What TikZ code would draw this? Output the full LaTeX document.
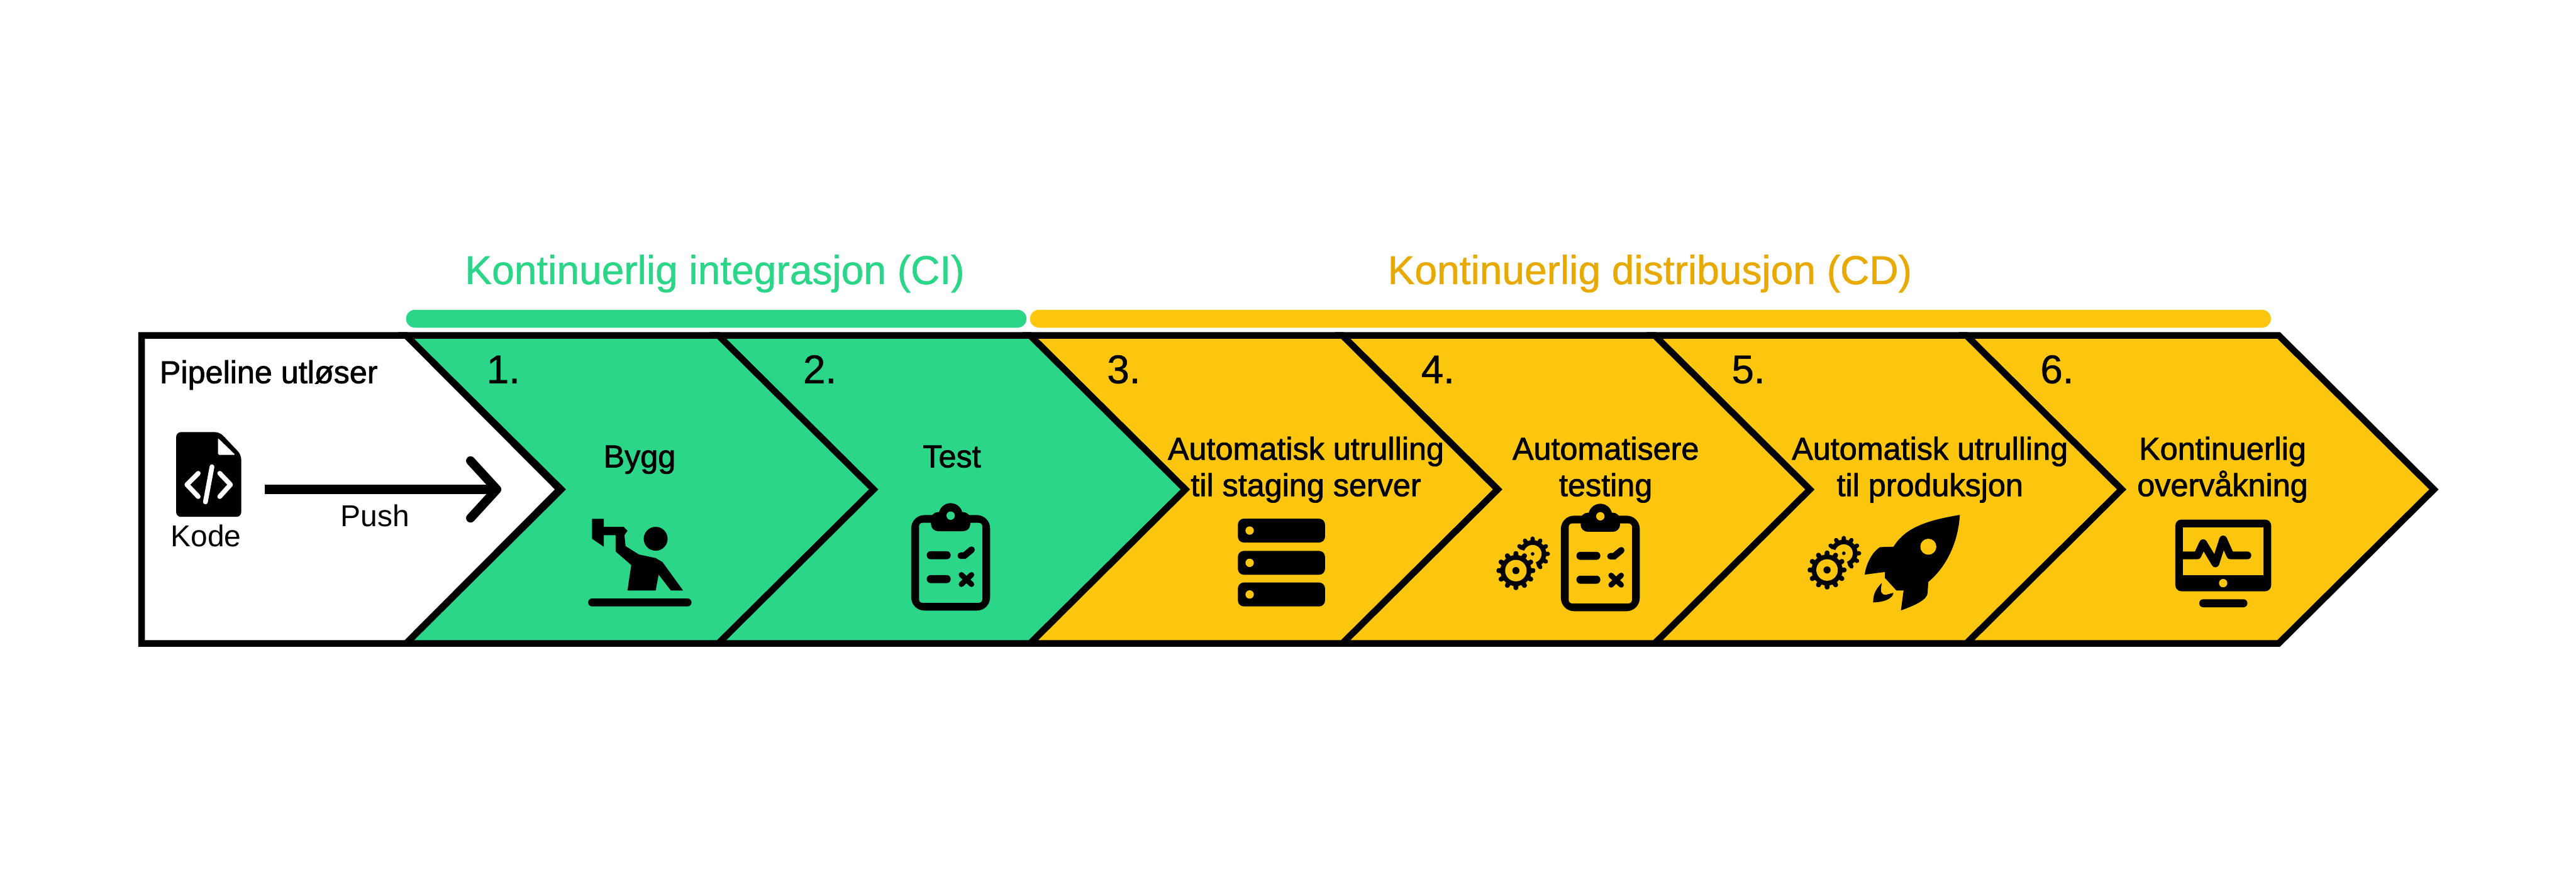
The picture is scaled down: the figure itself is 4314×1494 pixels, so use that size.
\documentclass[tikz,border=0pt]{standalone}
\usepackage{fontspec}
\setmainfont{Liberation Sans}
\newfontfamily\medf[FakeBold=1.6]{Liberation Sans}
\newfontfamily\numf[FakeBold=0.9]{Liberation Sans}
\definecolor{cigreen}{HTML}{2CD689}
\definecolor{cdyellow}{HTML}{FCC50E}
\definecolor{cdtitle}{HTML}{E8A900}
\newcommand{\txtsize}[1]{\fontsize{#1}{#1}\selectfont}
\newcommand{\lblsize}{\fontsize{5.3}{6.1}\selectfont}
\tikzset{
  x=0.1pt,y=-0.1pt,
  chevron/.style={draw=black,line width=1.1pt,miter limit=10,line join=miter},
  lbl/.style={inner sep=0,outer sep=0,text=black,align=center,font=\medf\lblsize},
  numlbl/.style={inner sep=0,outer sep=0,text=black,anchor=base west,font=\numf\txtsize{6.7}},
  smalllbl/.style={inner sep=0,outer sep=0,text=black,anchor=base,font=\txtsize{5.05}},
  titlelbl/.style={inner sep=0,outer sep=0,anchor=base,font=\numf\txtsize{6.75}},
  icon/.style={fill=black,draw=none},
  clipboard/.pic={
    \fill[black,rounded corners=2.2pt] (-66,0) rectangle (66,160);
    \fill[#1,rounded corners=0.6pt] (-53,13) rectangle (53,147);
    \fill[black,rounded corners=1.2pt] (-33,-5) rectangle (33,27);
    \fill[black] (0,0) circle (2pt);
    \fill[#1] (0,1) circle (0.7pt);
    \fill[black,rounded corners=0.65pt] (-40,60.5) rectangle (0,74);
    \fill[black,rounded corners=0.65pt] (-40,100.5) rectangle (0,114);
    \draw[black,line width=1.1pt,line cap=round] (17,68) -- (23,68) -- (35,58);
    \draw[black,line width=0.9pt,line cap=round] (18,100) -- (35,116) (18,116) -- (35,100);
  },
  gearshape/.pic={
    \foreach \a in {0,30,...,330}
      \fill[black,rotate=\a,rounded corners=0.2pt] (-4.5,-24) -- (-3.5,-32.5) -- (3.5,-32.5) -- (4.5,-24) -- cycle;
    \fill[black] (0,0) circle (2.6pt);
    \fill[cdyellow] (0,0) circle (1.8pt);
    \fill[black] (0,0) circle (0.6pt);
  },
  gearshapesmall/.pic={
    \foreach \a in {0,30,...,330}
      \fill[black,rotate=\a,rounded corners=0.2pt] (-4,-21) -- (-3,-29) -- (3,-29) -- (4,-21) -- cycle;
    \fill[black] (0,0) circle (2.3pt);
    \fill[cdyellow] (0,0) circle (1.5pt);
    \fill[black] (0,0) circle (0.3pt);
  },
  gearpair/.pic={
    \pic at (28,-28) {gearshapesmall};
    \fill[cdyellow] (0,0) circle (3.6pt);
    \pic at (0,0) {gearshape};
  },
}
\begin{document}
\begin{tikzpicture}
\useasboundingbox (0,0) rectangle (4314,1494);
% chevrons, right to left so that every tip lies over the next one
\foreach \xn/\col in {3293/cdyellow,2770/cdyellow,2248/cdyellow,1725/cdyellow,1202/cigreen,680/cigreen}{
  \pgfmathsetmacro{\xa}{\xn+523}
  \pgfmathsetmacro{\xb}{\xn+783}
  \pgfmathsetmacro{\xc}{\xn+260}
  \draw[chevron,fill=\col] (\xn,562) -- (\xa,562) -- (\xb,820) -- (\xa,1078) -- (\xn,1078) -- (\xc,820) -- cycle;
}
\draw[chevron,fill=white] (237,562) -- (680,562) -- (937,820) -- (680,1078) -- (237,1078) -- cycle;
% bars
\fill[cigreen,rounded corners=1.5pt] (680,519) rectangle (1719,549);
\fill[cdyellow,rounded corners=1.5pt] (1725,519) rectangle (3803,549);
% titles
\node[titlelbl,text=cigreen] (ti) at (1197,476) {Kontinuerlig integrasjon (CI)};
\node[titlelbl,text=cdtitle] (td) at (2763,476) {Kontinuerlig distribusjon (CD)};
% numbers
\node[numlbl] (n1) at (815,642) {1.};
\node[numlbl] (n2) at (1345,642) {2.};
\node[numlbl] (n3) at (1854,642) {3.};
\node[numlbl] (n4) at (2380,642) {4.};
\node[numlbl] (n5) at (2900,642) {5.};
\node[numlbl] (n6) at (3417,642) {6.};
% start panel
\node[lbl,anchor=base] (pipe) at (450,642) {Pipeline utløser};
\node[smalllbl] (kode) at (345,916) {Kode};
\node[smalllbl] (push) at (628,882) {Push};
\fill[black,rounded corners=0.8pt] (295,724) -- (368,724) -- (404,762) -- (404,866) -- (295,866) -- cycle;
\fill[white,rounded corners=0.2pt] (365,734) -- (394,762) -- (365,762) -- cycle;
\draw[white,line width=0.8pt,line cap=round,line join=round] (332,793) -- (313,812) -- (332,832) (368,793) -- (386,812) -- (368,832) (355,782) -- (344,841);
\coordinate (arrowstart) at (443,820);
\coordinate (arrowtip) at (832,820);
\draw[black,line width=1.5pt] (arrowstart) -- (arrowtip);
\draw[black,line width=1.5pt,line cap=round,line join=round] (788,772) -- (arrowtip) -- (788,868);
% step labels
\node[lbl,anchor=base] (bygg) at (1071,783) {Bygg};
\node[lbl,anchor=base] (test) at (1594,783) {Test};
\node[lbl] (s3) at (2187,787) {Automatisk utrulling\\til staging server};
\node[lbl] (s4) at (2689,787) {Automatisere\\testing};
\node[lbl] (s5) at (3232,787) {Automatisk utrulling\\til produksjon};
\node[lbl] (s6) at (3722,787) {Kontinuerlig\\overvåkning};
% builder icon
\fill[icon] (991.5,869.3) -- (1011.2,869.3) -- (1011.2,882.7) -- (1044.4,882.7) -- (1050.8,889.3) -- (1045.7,896.7) -- (1047.6,915) -- (1069.9,929) -- (1098,935) -- (1109.4,941.7) -- (1143.9,989.3) -- (1123.5,989.3) -- (1103,962.7) -- (1098,989.3) -- (1050.8,989.3) -- (1057.1,946.7) -- (1031,924) -- (1031,896.7) -- (1011.2,896.7) -- (1011.2,916) -- (991.5,902.7) -- cycle;
\fill[icon] (1098,902.7) circle (2pt);
\fill[icon,rounded corners=0.65pt] (985,1002.7) rectangle (1158,1016);
% clipboards
\pic at (1592,863) {clipboard=cigreen};
\pic at (2680,864) {clipboard=cdyellow};
% gears
\pic at (2538.6,956) {gearpair};
\pic at (3059.7,955) {gearpair};
% server icon
\foreach \yy in {869,923,976}{
  \fill[icon,rounded corners=1pt] (2073,\yy) rectangle (2219,\yy+40);
  \fill[cdyellow] (2092.7,\yy+20) circle (0.7pt);
}
% rocket
\fill[icon] (3282,862.7) .. controls (3225,872) and (3190,885) .. (3171,916) -- (3148.4,916.7) .. controls (3135,925) and (3125,945) .. (3122.8,962.7) -- (3156.6,958.3) -- (3156.6,968.3) -- (3175.8,989.3) -- (3187.9,989.3) -- (3183.4,1022.7) .. controls (3205,1015) and (3228,1005) .. (3228,993.3) -- (3229.3,975) .. controls (3265,945) and (3280,900) .. (3282,862.7) -- cycle;
\fill[cdyellow] (3229.3,916) circle (1.34pt);
\fill[icon] (3151.5,976.7) .. controls (3138,990) and (3137,1000) .. (3136.9,1009.3) .. controls (3155,1009) and (3170,1003) .. (3170.7,993.3) -- (3157.9,996.7) .. controls (3150,996) and (3148,992) .. (3151.5,976.7) -- cycle;
% monitor icon
\fill[icon,rounded corners=1pt] (3643,870.5) rectangle (3803.4,990.6);
\fill[cdyellow] (3656,883.8) rectangle (3790,964.2);
\fill[cdyellow] (3723,977) circle (0.7pt);
\fill[icon,rounded corners=0.65pt] (3683,1004) rectangle (3763.6,1017.4);
\draw[black,line width=1.3pt,line cap=round,line join=round] (3656,930.5) -- (3680,930.5) -- (3689.5,910) -- (3710,944) -- (3723,903.7) -- (3735,930.5) -- (3763.6,930.5);
\end{tikzpicture}
\end{document}
